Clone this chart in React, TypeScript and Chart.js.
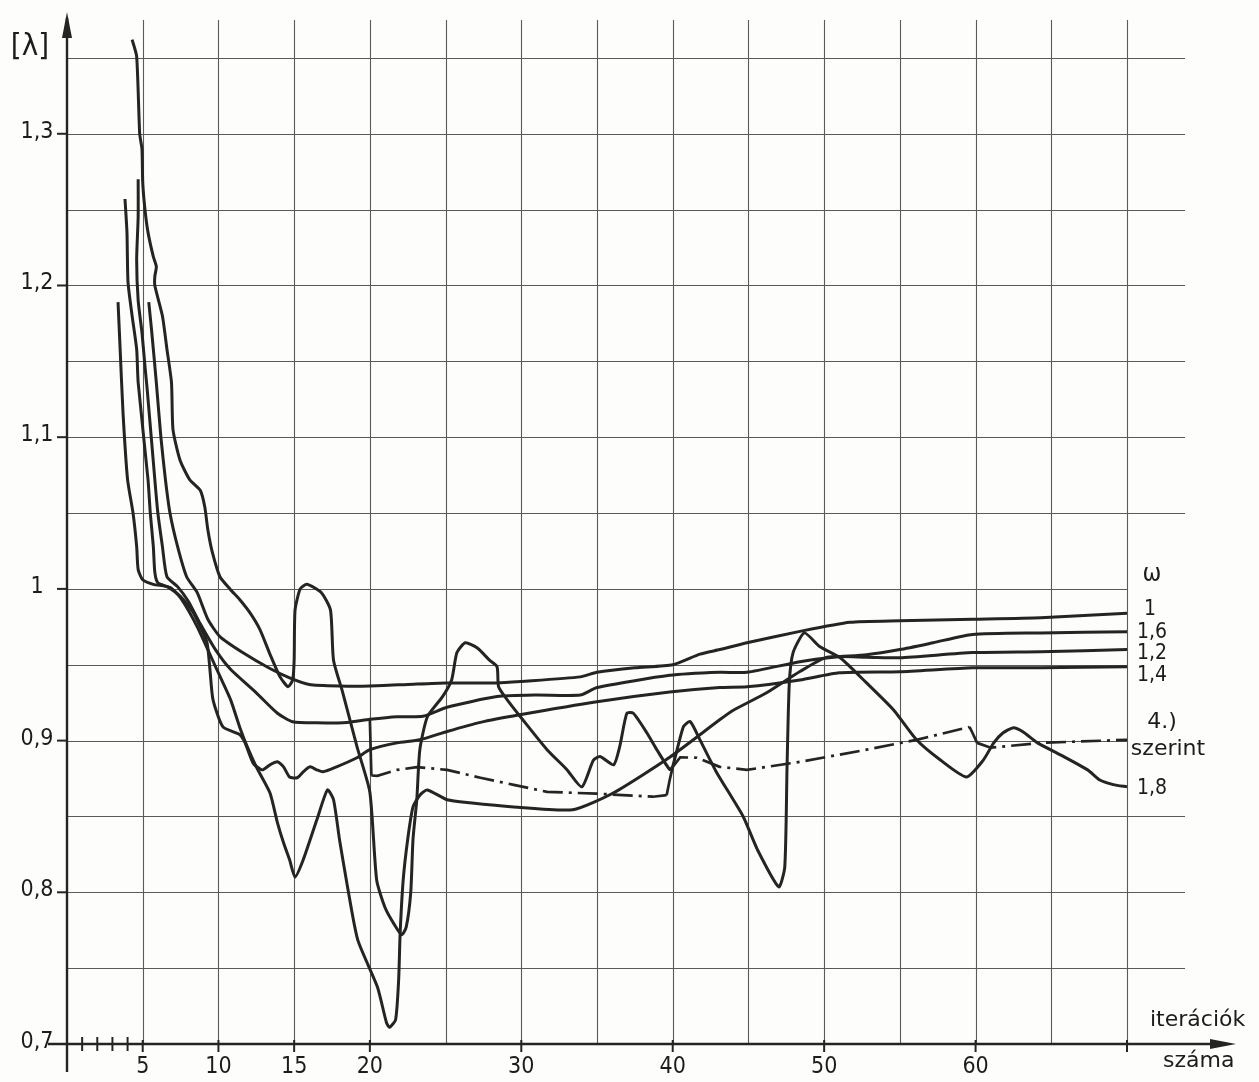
import React, { useEffect, useRef } from "react";
import { Chart, registerables } from "chart.js";

Chart.register(...registerables);

// ---- axis ticks ----
const xTickValues = [5, 10, 15, 20, 30, 40, 50, 60];
const xTickLabels = ["5", "10", "15", "20", "30", "40", "50", "60"];
const xMinorTicks = [1, 2, 3, 4];
const yTickValues = [0.7, 0.8, 0.9, 1.0, 1.1, 1.2, 1.3];
const yTickLabels = ["0,7", "0,8", "0,9", "1", "1,1", "1,2", "1,3"];

// ---- series (ω values) ----
const seriesNames = ["1", "1,6", "1,4", "1,2", "1,8", "4.) szerint"];

const omega10X = [5.4, 5.6, 5.9, 6.2, 6.5, 6.8, 7.3, 7.9, 8.6, 9.3, 10.1, 11.6, 13.4, 14.7, 16.0, 18.0, 20.0, 22.5, 25.0, 28.4, 30.0, 33.9, 35.0, 37.5, 40.0, 41.8, 43.1, 44.9, 48.4, 51.7, 55.0, 59.8, 64.3, 70.0];
const omega10Y = [1.189, 1.169, 1.136, 1.1, 1.072, 1.05, 1.028, 1.008, 0.9975, 0.98, 0.9685, 0.958, 0.9475, 0.9414, 0.937, 0.936, 0.936, 0.937, 0.938, 0.938, 0.939, 0.942, 0.945, 0.948, 0.95, 0.957, 0.96, 0.9645, 0.972, 0.978, 0.979, 0.98, 0.981, 0.984];

const omega16X = [4.7, 4.7, 4.6, 4.7, 4.95, 5.15, 5.3, 5.8, 6.0, 6.3, 6.6, 7.3, 8.0, 8.8, 9.8, 10.8, 12.5, 13.9, 14.9, 16.5, 18.5, 20.0, 21.8, 23.5, 25.1, 28.4, 31.0, 33.9, 35.0, 39.8, 43.1, 44.9, 48.4, 50.6, 52.8, 55.0, 57.2, 59.8, 64.3, 70.0];
const omega16Y = [1.27, 1.2455, 1.217, 1.19, 1.169, 1.1466, 1.131, 1.072, 1.05, 1.028, 1.008, 1.0015, 0.992, 0.977, 0.96, 0.947, 0.9315, 0.918, 0.9124, 0.9117, 0.912, 0.914, 0.9157, 0.916, 0.922, 0.929, 0.93, 0.93, 0.935, 0.943, 0.945, 0.945, 0.952, 0.955, 0.9566, 0.96, 0.9645, 0.97, 0.971, 0.9718];

const omega14X = [3.83, 3.96, 4.03, 4.3, 4.6, 4.7, 5.35, 5.5, 5.7, 5.8, 6.0, 6.7, 7.5, 8.3, 8.8, 9.25, 9.44, 9.64, 10.3, 11.4, 11.76, 12.3, 12.9, 13.4, 13.9, 14.3, 14.7, 15.2, 15.6, 16.05, 16.5, 16.9, 17.8, 19.15, 20.0, 21.8, 23.3, 25.1, 27.3, 29.9, 35.0, 39.8, 43.1, 44.9, 48.4, 51.0, 55.0, 59.8, 64.3, 70.0];
const omega14Y = [1.257, 1.235, 1.202, 1.18, 1.158, 1.136, 1.072, 1.05, 1.028, 1.011, 1.004, 1.001, 0.995, 0.985, 0.975, 0.9645, 0.9467, 0.927, 0.909, 0.904, 0.8985, 0.885, 0.8807, 0.884, 0.886, 0.8827, 0.876, 0.8755, 0.8794, 0.8827, 0.8807, 0.8794, 0.8827, 0.8887, 0.894, 0.8985, 0.9005, 0.906, 0.912, 0.917, 0.9256, 0.932, 0.935, 0.9355, 0.94, 0.9447, 0.9454, 0.948, 0.948, 0.9487];

const omega12X = [3.37, 3.5, 3.7, 4.0, 4.36, 4.6, 4.7, 5.0, 5.7, 6.8, 7.5, 8.6, 9.9, 10.8, 11.4, 11.9, 12.5, 13.4, 13.9, 14.3, 14.7, 15.06, 15.6, 16.5, 17.2, 17.6, 18.0, 18.5, 19.2, 20.5, 21.1, 21.3, 21.7, 21.9, 22.0, 22.2, 22.5, 22.85, 23.3, 23.8, 25.1, 26.6, 29.5, 33.4, 36.1, 39.8, 43.1, 44.0, 46.2, 48.4, 50.2, 52.8, 55.0, 59.8, 64.3, 70.0];
const omega12Y = [1.189, 1.16, 1.116, 1.072, 1.05, 1.028, 1.0127, 1.006, 1.003, 1.001, 0.994, 0.975, 0.9467, 0.927, 0.909, 0.896, 0.8827, 0.8656, 0.8458, 0.8326, 0.8214, 0.81, 0.8214, 0.8478, 0.8675, 0.861, 0.8345, 0.805, 0.7686, 0.7376, 0.714, 0.711, 0.716, 0.742, 0.773, 0.808, 0.835, 0.8563, 0.864, 0.8675, 0.861, 0.859, 0.8563, 0.8544, 0.8656, 0.889, 0.9137, 0.92, 0.9315, 0.9455, 0.955, 0.955, 0.9546, 0.958, 0.9586, 0.96];

const omega18X = [4.3, 4.6, 4.8, 4.95, 5.0, 5.15, 5.35, 5.7, 5.9, 5.8, 5.8, 6.3, 6.6, 6.9, 7.0, 7.46, 8.1, 8.8, 9.1, 9.3, 9.6, 10.1, 10.8, 11.4, 12.1, 12.75, 13.4, 14.07, 14.6, 14.9, 15.0, 15.06, 15.4, 15.85, 16.8, 17.4, 17.6, 18.2, 19.15, 20.0, 20.45, 21.0, 21.6, 22.1, 22.4, 22.7, 22.85, 23.1, 23.3, 23.8, 24.8, 25.4, 25.75, 26.3, 27.1, 27.9, 28.4, 28.5, 29.06, 30.1, 31.7, 33.0, 34.0, 34.76, 35.2, 36.1, 36.5, 36.97, 37.4, 38.3, 38.95, 39.8, 40.0, 40.7, 41.15, 41.8, 42.9, 44.65, 45.6, 47.0, 47.4, 47.55, 47.7, 47.95, 48.7, 49.7, 51.06, 52.8, 54.6, 56.1, 57.7, 59.4, 60.5, 61.2, 61.8, 62.5, 63.1, 64.1, 65.6, 67.4, 68.2, 69.1, 70.0];
const omega18Y = [1.362, 1.351, 1.3, 1.29, 1.268, 1.25, 1.235, 1.219, 1.2125, 1.206, 1.2, 1.18, 1.158, 1.136, 1.105, 1.085, 1.072, 1.065, 1.054, 1.039, 1.024, 1.008, 0.9995, 0.993, 0.984, 0.973, 0.957, 0.942, 0.9355, 0.94, 0.953, 0.986, 1.0, 1.003, 0.9975, 0.986, 0.953, 0.932, 0.896, 0.866, 0.808, 0.79, 0.779, 0.772, 0.777, 0.8, 0.835, 0.861, 0.894, 0.9157, 0.929, 0.94, 0.958, 0.9645, 0.961, 0.953, 0.9487, 0.9355, 0.927, 0.9137, 0.894, 0.881, 0.8695, 0.887, 0.8895, 0.884, 0.896, 0.918, 0.918, 0.905, 0.894, 0.881, 0.883, 0.909, 0.9126, 0.9005, 0.879, 0.85, 0.828, 0.8036, 0.8168, 0.8827, 0.938, 0.958, 0.971, 0.962, 0.9546, 0.938, 0.92, 0.9005, 0.887, 0.876, 0.887, 0.8985, 0.905, 0.9085, 0.906, 0.8985, 0.8906, 0.8807, 0.874, 0.871, 0.8695];

const formula4X = [20.0, 20.1, 20.5, 21.8, 23.1, 25.1, 27.3, 29.5, 31.7, 35.0, 38.7, 39.6, 39.8, 40.0, 40.5, 41.6, 43.1, 44.9, 48.4, 52.8, 56.1, 59.6, 59.8, 60.1, 61.0, 64.3, 70.0];
const formula4Y = [0.914, 0.877, 0.8768, 0.8807, 0.8825, 0.8807, 0.8755, 0.8708, 0.8662, 0.865, 0.863, 0.864, 0.874, 0.8827, 0.889, 0.8887, 0.8827, 0.8807, 0.886, 0.894, 0.9005, 0.909, 0.905, 0.8985, 0.8953, 0.8985, 0.9005];

const X_MAX = 73.83;
const Y_MIN = 0.7;
const Y_MAX = 1.375;
const INK = "#242424";
const FONT = '"DejaVu Sans Condensed", "DejaVu Sans", sans-serif';
const WORD_FONT = '"DejaVu Sans", sans-serif';

const toPoints = (xs: number[], ys: number[]) => xs.map((x, i) => ({ x, y: ys[i] }));

const paperPlugin = {
  id: "paper",
  beforeDraw(chart: any) {
    const { ctx, width, height, chartArea, scales } = chart;
    const X = (v: number) => scales.x.getPixelForValue(v);
    const Y = (v: number) => scales.y.getPixelForValue(v);
    const x0 = X(0);
    const y0 = Y(Y_MIN);
    const line = (a: number, b: number, c: number, d: number) => {
      ctx.beginPath();
      ctx.moveTo(a, b);
      ctx.lineTo(c, d);
      ctx.stroke();
    };
    ctx.save();
    ctx.fillStyle = "#fdfdfb";
    ctx.fillRect(0, 0, width, height);

    // grid
    ctx.strokeStyle = "#5a5a5a";
    ctx.lineWidth = 1.1;
    for (let k = 1; k <= 14; k++) {
      const px = Math.round(X(k * 5)) + 0.5;
      line(px, chartArea.top, px, y0);
    }
    for (let k = 1; k <= 13; k++) {
      const py = Math.round(Y(0.7 + k * 0.05)) + 0.5;
      const end = k >= 4 && k <= 6 ? X(70) : chartArea.right;
      line(x0, py, end, py);
    }

    // axes
    ctx.strokeStyle = INK;
    ctx.fillStyle = INK;
    ctx.lineWidth = 2.4;
    line(x0, y0 + 28, x0, chartArea.top - 2);
    line(x0 - 19, y0, chartArea.right + 40, y0);
    ctx.beginPath();
    ctx.moveTo(x0, chartArea.top - 8);
    ctx.lineTo(x0 - 5, chartArea.top + 18);
    ctx.lineTo(x0 + 5, chartArea.top + 18);
    ctx.closePath();
    ctx.fill();
    const ax = chartArea.right + 51;
    ctx.beginPath();
    ctx.moveTo(ax, y0);
    ctx.lineTo(ax - 26, y0 - 5);
    ctx.lineTo(ax - 26, y0 + 5);
    ctx.closePath();
    ctx.fill();

    // ticks
    ctx.lineWidth = 2;
    yTickValues.forEach((v) => line(x0 - 10, Y(v), x0, Y(v)));
    [...xTickValues, 70].forEach((v) => line(X(v), y0 - 4, X(v), y0 + 8));
    xMinorTicks.forEach((v) => line(X(v), y0 - 7, X(v), y0 + 7));

    // tick labels
    ctx.fillStyle = "#1c1c1c";
    ctx.font = `23px ${FONT}`;
    ctx.textAlign = "center";
    ctx.textBaseline = "middle";
    yTickValues.forEach((v, i) => ctx.fillText(yTickLabels[i], 37, Y(v) - 2));
    ctx.textBaseline = "top";
    xTickValues.forEach((v, i) => ctx.fillText(xTickLabels[i], X(v), y0 + 12));

    // axis titles
    ctx.font = `31px ${FONT}`;
    ctx.textBaseline = "middle";
    ctx.fillText("[λ]", 30, 47);
    ctx.font = `22px ${WORD_FONT}`;
    ctx.textAlign = "left";
    ctx.fillText("iterációk", 1150, 1020);
    ctx.fillText("száma", 1163, 1061);

    // series labels at right
    const lx = X(70) + 25;
    ctx.textAlign = "center";
    ctx.font = `25px ${FONT}`;
    ctx.fillText("ω", lx, 574);
    ctx.font = `21px ${FONT}`;
    ctx.fillText(seriesNames[0], lx - 2, 610);
    ctx.fillText(seriesNames[1], lx, 633);
    ctx.fillText(seriesNames[3], lx, 654);
    ctx.fillText(seriesNames[2], lx, 676);
    ctx.font = `22px ${WORD_FONT}`;
    ctx.fillText("4.)", lx + 10, 722);
    ctx.fillText("szerint", lx + 16, 749);
    ctx.font = `21px ${FONT}`;
    ctx.fillText(seriesNames[4], lx, 789);
    ctx.restore();
  },
};

const solidLine = (label: string, xs: number[], ys: number[]) => ({
  label,
  data: toPoints(xs, ys),
  borderColor: INK,
  borderWidth: 3,
  pointRadius: 0,
  tension: 0.2,
  fill: false,
});

export default function App() {
  const ref = useRef<HTMLCanvasElement | null>(null);
  useEffect(() => {
    if (!ref.current) return;
    const chart = new Chart(ref.current, {
      type: "line",
      data: {
        datasets: [
          solidLine(seriesNames[0], omega10X, omega10Y),
          solidLine(seriesNames[1], omega16X, omega16Y),
          solidLine(seriesNames[2], omega14X, omega14Y),
          solidLine(seriesNames[3], omega12X, omega12Y),
          solidLine(seriesNames[4], omega18X, omega18Y),
          {
            label: seriesNames[5],
            data: toPoints(formula4X, formula4Y),
            borderColor: INK,
            borderWidth: 2.7,
            pointRadius: 0,
            tension: 0,
            fill: false,
            segment: {
              borderDash: (c: any) => (Math.abs(c.p1.x - c.p0.x) < 5 ? [] : [20, 6, 3, 6]),
            },
          },
        ],
      },
      options: {
        responsive: false,
        devicePixelRatio: 1,
        animation: false,
        layout: { padding: { left: 67, right: 74, top: 20, bottom: 38 } },
        plugins: { legend: { display: false }, tooltip: { enabled: false } },
        scales: {
          x: { type: "linear", min: 0, max: X_MAX, display: false },
          y: { type: "linear", min: Y_MIN, max: Y_MAX, display: false },
        },
      },
      plugins: [paperPlugin],
    } as any);
    return () => chart.destroy();
  }, []);
  return (
    <div style={{ position: "fixed", left: 0, top: 0, width: 1259, height: 1082, background: "#fdfdfb" }}>
      <canvas ref={ref} width={1259} height={1082} style={{ display: "block", width: 1259, height: 1082 }} />
    </div>
  );
}
